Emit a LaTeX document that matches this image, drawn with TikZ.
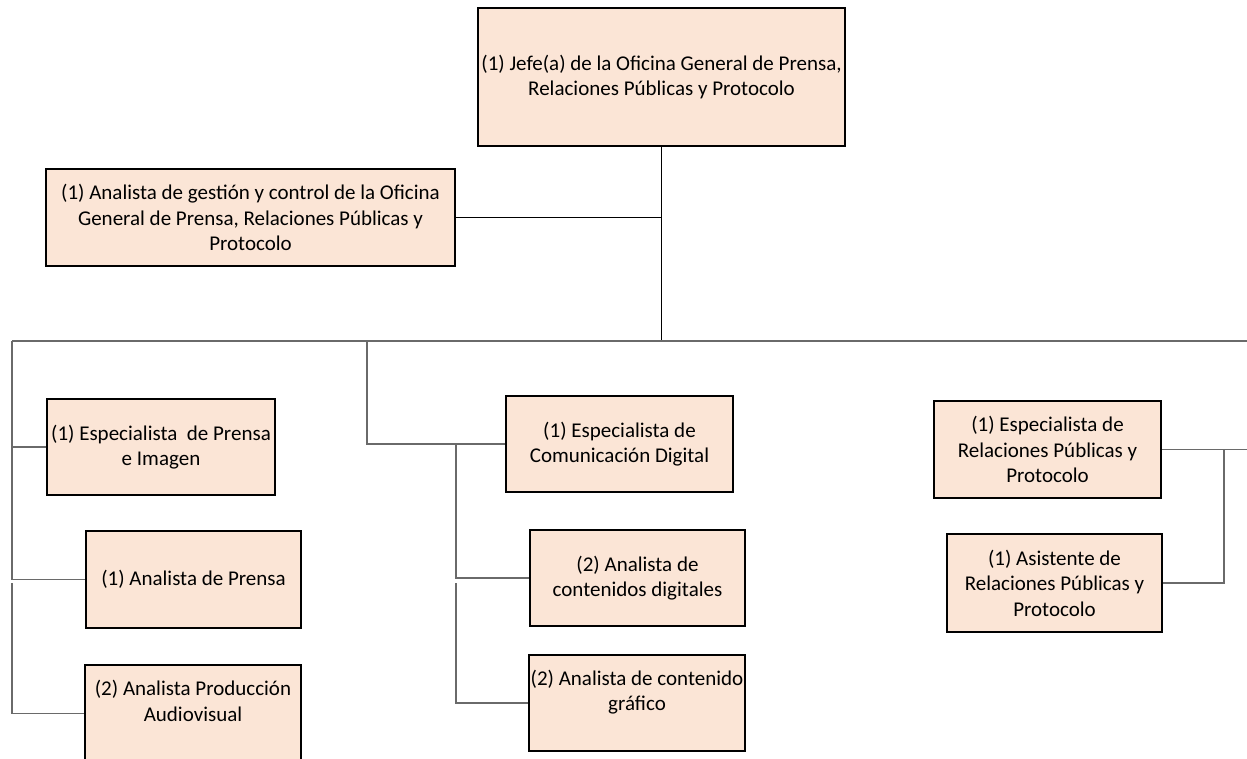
\documentclass[tikz,border=0pt]{standalone}
\usepackage{fontspec}
\setmainfont{Carlito}
\definecolor{boxfill}{HTML}{FBE5D6}
\definecolor{linkgray}{HTML}{6A6A6A}
\begin{document}
\begin{tikzpicture}[x=1pt,y=-1pt,
  post/.style={draw=black, line width=1.3pt, fill=boxfill, align=center,
    inner sep=0pt, font=\fontsize{21}{25.6}\selectfont},
  link/.style={draw=linkgray, line width=1.1pt},
  mainlink/.style={draw=black, line width=1.8pt}]
\useasboundingbox (0,0) rectangle (1247,758);

% Head of office and its staff analyst
\node[post, minimum width=367pt, minimum height=138pt] (jefe) at (661.5,77)
  {(1) Jefe(a) de la Oficina General de Prensa,\\Relaciones Públicas y Protocolo};
\node[post, minimum width=409pt, minimum height=97pt] (gestion) at (250.5,217.5)
  {(1) Analista de gestión y control de la Oficina\\General de Prensa, Relaciones Públicas y\\Protocolo};

% Press and image unit
\node[post, minimum width=228pt, minimum height=96pt] (espPrensa) at (161,447)
  {(1) Especialista \ de Prensa\\e Imagen};
\node[post, minimum width=215pt, minimum height=97pt] (anPrensa) at (193.5,579.5)
  {(1) Analista de Prensa};
\node[post, minimum width=216pt, minimum height=97pt] (prodAV) at (193,713.5)
  {(2) Analista Producción\\Audiovisual\\\mbox{}};

% Digital communication unit
\node[post, minimum width=227pt, minimum height=96pt] (espDigital) at (619.5,444)
  {(1) Especialista de\\Comunicación Digital};
\node[post, minimum width=215pt, minimum height=96pt] (contDig) at (637.5,578)
  {(2) Analista de\\contenidos digitales};
\node[post, minimum width=216pt, minimum height=96pt] (contGraf) at (637,703)
  {(2) Analista de contenido\\gráfico\\\mbox{}};

% Public relations and protocol unit
\node[post, minimum width=227pt, minimum height=97pt] (espRP) at (1047.5,449.5)
  {(1) Especialista de\\Relaciones Públicas y\\Protocolo};
\node[post, minimum width=215pt, minimum height=98pt] (asistRP) at (1054.5,583)
  {(1) Asistente de\\Relaciones Públicas y\\Protocolo};

% Main trunk
\coordinate (hub) at (661.5,341);
\coordinate (busL) at (12,341);
\coordinate (busM) at (367,341);
\coordinate (busR) at (1252,341);
\draw[mainlink] (jefe.south) -- (hub);
\draw[mainlink] (gestion.east) -- (gestion.east -| hub);
\draw[link] (busL) -- (busR);

% Left branch
\draw[link] (busL) |- (anPrensa.west);
\draw[link] (espPrensa.west) -- (espPrensa.west -| busL);
\coordinate (leftLow) at (12,583);
\draw[link] (leftLow) |- (prodAV.west);

% Middle branch
\draw[link] (busM) |- (espDigital.west);
\coordinate (midTop) at (456,444);
\coordinate (midLow) at (456,583);
\draw[link] (midTop) |- (contDig.west);
\draw[link] (midLow) |- (contGraf.west);

% Right branch
\draw[link] (busR) |- (espRP.east);
\coordinate (rightTop) at (1224,449.5);
\draw[link] (rightTop) |- (asistRP.east);
\end{tikzpicture}
\end{document}
